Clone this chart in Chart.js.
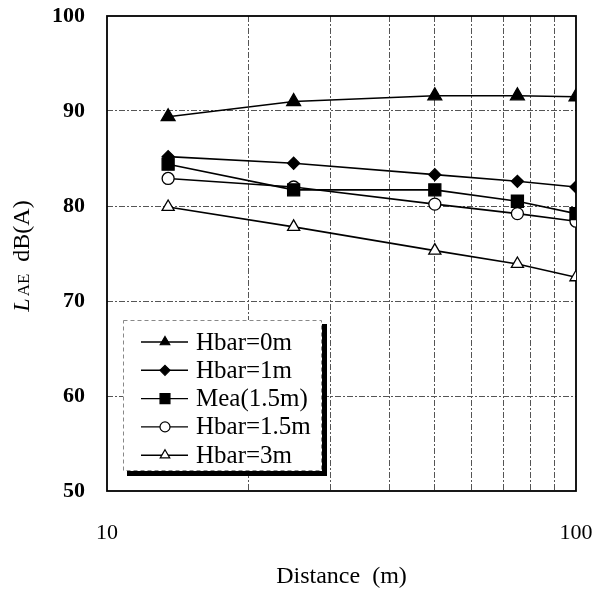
<!DOCTYPE html>
<html>
<head>
<meta charset="utf-8">
<script src="https://cdn.jsdelivr.net/npm/chart.js@4.4.1/dist/chart.umd.min.js"></script>
<style>
html,body{margin:0;padding:0;background:#fff;}
#wrap{width:596px;height:590px;position:relative;}
</style>
</head>
<body>
<div id="wrap"><canvas id="c" width="596" height="590"></canvas></div>
<script>
// ---- data ----
const distances = [13.5, 25, 50, 75, 100];
const seriesNames = ['Hbar=0m', 'Hbar=1m', 'Mea(1.5m)', 'Hbar=1.5m', 'Hbar=3m'];
const hbar0  = [89.4, 91.0, 91.6, 91.6, 91.5];
const hbar1  = [85.2, 84.5, 83.3, 82.6, 82.0];
const mea15  = [84.4, 81.7, 81.7, 80.5, 79.2];
const hbar15 = [82.9, 82.0, 80.2, 79.2, 78.4];
const hbar3  = [79.9, 77.8, 75.3, 73.9, 72.5];
const xGridTicks = [10, 20, 30, 40, 50, 60, 70, 80, 90, 100];
const xLabelTicks = [10, 100];
const yMin = 50, yMax = 100, yStep = 10;

const SERIF = '"Liberation Serif", "Times New Roman", serif';

const styles = [
  {pointStyle: 'triangle', fill: '#000', r: 8, lr: 5.5},
  {pointStyle: 'rectRot',  fill: '#000', r: 6, lr: 5},
  {pointStyle: 'rect',     fill: '#000', r: 8.5, lr: 7},
  {pointStyle: 'circle',   fill: '#fff', r: 6, lr: 5},
  {pointStyle: 'triangle', fill: '#fff', r: 7, lr: 5.5}
];
const allSeries = [hbar0, hbar1, mea15, hbar15, hbar3];

const datasets = allSeries.map((vals, i) => ({
  label: seriesNames[i],
  data: distances.map((d, j) => ({x: d, y: vals[j]})),
  showLine: true,
  borderColor: '#000',
  borderWidth: 1.6,
  pointStyle: styles[i].pointStyle,
  pointRadius: styles[i].r,
  pointHoverRadius: styles[i].r,
  pointBackgroundColor: styles[i].fill,
  pointBorderColor: '#000',
  pointBorderWidth: 1.3,
  tension: 0
}));

function drawMarker(ctx, style, r, x, y, fill) {
  ctx.save();
  ctx.fillStyle = fill;
  ctx.strokeStyle = '#000';
  ctx.lineWidth = 1.2;
  ctx.beginPath();
  if (style === 'triangle') {
    ctx.moveTo(x, y - r);
    ctx.lineTo(x + r * Math.sqrt(3) / 2, y + r / 2);
    ctx.lineTo(x - r * Math.sqrt(3) / 2, y + r / 2);
    ctx.closePath();
  } else if (style === 'rectRot') {
    ctx.moveTo(x, y - r); ctx.lineTo(x + r, y); ctx.lineTo(x, y + r); ctx.lineTo(x - r, y); ctx.closePath();
  } else if (style === 'rect') {
    const s = r * Math.SQRT1_2;
    ctx.rect(x - s, y - s, 2 * s, 2 * s);
  } else {
    ctx.arc(x, y, r, 0, Math.PI * 2);
  }
  ctx.fill();
  ctx.stroke();
  ctx.restore();
}

const framePlugin = {
  id: 'frame',
  beforeDatasetsDraw(chart) {
    const {ctx, chartArea: a} = chart;
    ctx.save();
    ctx.strokeStyle = '#000';
    ctx.lineWidth = 1.8;
    ctx.strokeRect(a.left, a.top, a.right - a.left, a.bottom - a.top);
    ctx.restore();
  },
  afterDraw(chart) {
    const ctx = chart.ctx;
    // legend box
    const bx = 123, by = 320, bw = 198, bh = 150;
    ctx.save();
    ctx.fillStyle = '#fff';
    ctx.fillRect(bx, by, bw, bh);
    ctx.strokeStyle = '#888';
    ctx.lineWidth = 1;
    ctx.setLineDash([4, 3]);
    ctx.strokeRect(bx + 0.5, by + 0.5, bw, bh);
    ctx.setLineDash([]);
    ctx.fillStyle = '#000';
    ctx.fillRect(bx + bw + 1, by + 4, 5, bh + 2);
    ctx.fillRect(bx + 4, by + bh + 1, bw + 2, 5);
    ctx.font = '25px ' + SERIF;
    ctx.textBaseline = 'middle';
    ctx.textAlign = 'left';
    for (let i = 0; i < seriesNames.length; i++) {
      const y = 342 + i * 28.3;
      ctx.strokeStyle = '#000';
      ctx.lineWidth = 1.4;
      ctx.beginPath();
      ctx.moveTo(141, y);
      ctx.lineTo(188, y);
      ctx.stroke();
      drawMarker(ctx, styles[i].pointStyle, styles[i].lr, 165, y, styles[i].fill);
      ctx.fillStyle = '#000';
      ctx.fillText(seriesNames[i], 196, y + 1);
    }
    ctx.restore();

    // y axis title: italic L, small AE, dB(A)
    ctx.save();
    ctx.translate(29, 256);
    ctx.rotate(-Math.PI / 2);
    ctx.fillStyle = '#000';
    ctx.textBaseline = 'alphabetic';
    const f1 = 'italic 24px ' + SERIF, f2 = '17px ' + SERIF, f3 = '24px ' + SERIF;
    ctx.font = f1; const w1 = ctx.measureText('L').width + 2;
    ctx.font = f2; const w2 = ctx.measureText('AE').width;
    ctx.font = f3; const w3 = ctx.measureText('  dB(A)').width;
    let x = -(w1 + w2 + w3) / 2;
    ctx.font = f1; ctx.fillText('L', x, 0); x += w1;
    ctx.font = f2; ctx.fillText('AE', x, 0); x += w2;
    ctx.font = f3; ctx.fillText('  dB(A)', x, 0);
    ctx.restore();
  }
};

const gridColor = '#555';

new Chart(document.getElementById('c'), {
  type: 'scatter',
  data: {datasets},
  plugins: [framePlugin],
  options: {
    responsive: false,
    animation: false,
    events: [],
    layout: {padding: {top: 16, right: 20, left: 0, bottom: 0}},
    plugins: {legend: {display: false}, tooltip: {enabled: false}},
    scales: {
      x: {
        type: 'logarithmic',
        min: 10, max: 100,
        afterBuildTicks(scale) { scale.ticks = xGridTicks.map(v => ({value: v})); },
        afterFit(scale) { scale.height = 99; scale.paddingLeft = 0; scale.paddingRight = 0; },
        ticks: {
          autoSkip: false,
          maxRotation: 0,
          padding: 29,
          color: '#000',
          font: {family: SERIF, size: 22},
          callback: (v) => xLabelTicks.includes(v) ? String(v) : ''
        },
        grid: {
          drawTicks: false,
          lineWidth: 1,
          color: (c) => (c.tick && (c.tick.value === 10 || c.tick.value === 100)) ? 'rgba(0,0,0,0)' : gridColor
        },
        border: {display: false, dash: [6, 2, 2, 2]},
        title: {
          display: true,
          text: 'Distance  (m)',
          color: '#000',
          font: {family: SERIF, size: 24, lineHeight: 1},
          padding: {top: 0, bottom: 1}
        }
      },
      y: {
        min: yMin, max: yMax,
        afterFit(scale) { scale.width = 107; scale.paddingTop = 0; scale.paddingBottom = 0; },
        ticks: {
          stepSize: yStep,
          padding: 22,
          color: '#000',
          font: {family: SERIF, size: 22, weight: 'bold'}
        },
        grid: {
          drawTicks: false,
          lineWidth: 1,
          color: (c) => (c.tick && (c.tick.value === yMin || c.tick.value === yMax)) ? 'rgba(0,0,0,0)' : gridColor
        },
        border: {display: false, dash: [6, 2, 2, 2]}
      }
    }
  }
});
</script>
</body>
</html>
